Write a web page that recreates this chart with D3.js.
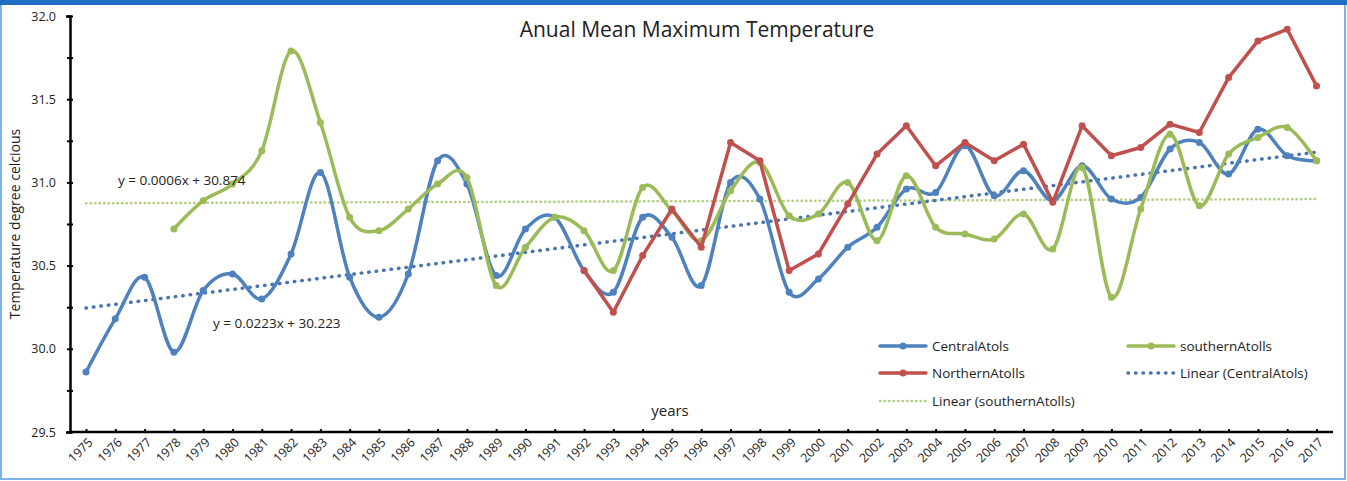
<!DOCTYPE html>
<html>
<head>
<meta charset="utf-8">
<script src="https://cdn.jsdelivr.net/npm/d3@7"></script>
<style>
  body { margin: 0; background: #fff; }
  svg text { font-family: "Open Sans", "Noto Sans", sans-serif; fill: #222; }
</style>
</head>
<body>
<div id="chart"></div>
<script>
//data
var years = d3.range(1975, 2018);
var central = [29.86, 30.18, 30.43, 29.98, 30.35, 30.45, 30.30, 30.57, 31.06, 30.43,
  30.19, 30.45, 31.13, 30.99, 30.44, 30.72, 30.79, 30.47, 30.34, 30.79,
  30.67, 30.38, 31.00, 30.90, 30.34, 30.42, 30.61, 30.73, 30.96, 30.94,
  31.22, 30.92, 31.07, 30.89, 31.10, 30.90, 30.91, 31.20, 31.24, 31.05,
  31.32, 31.16, 31.13];
var southern = [null, null, null, 30.72, 30.89, 30.99, 31.19, 31.79, 31.36, 30.79,
  30.71, 30.84, 30.99, 31.03, 30.38, 30.61, 30.79, 30.71, 30.47, 30.97,
  30.83, 30.65, 30.95, 31.12, 30.80, 30.81, 31.00, 30.65, 31.04, 30.73,
  30.69, 30.66, 30.81, 30.60, 31.09, 30.31, 30.84, 31.29, 30.86, 31.17,
  31.27, 31.33, 31.13];
var northern = [null, null, null, null, null, null, null, null, null, null,
  null, null, null, null, null, null, null, 30.47, 30.22, 30.56,
  30.84, 30.61, 31.24, 31.13, 30.47, 30.57, 30.87, 31.17, 31.34, 31.10,
  31.24, 31.13, 31.23, 30.88, 31.34, 31.16, 31.21, 31.35, 31.30, 31.63,
  31.85, 31.92, 31.58];
var yTicks = [29.5, 30.0, 30.5, 31.0, 31.5, 32.0];
//trendline coefficients as printed on the chart (x = 1..43)
var trendCentral = {slope: 0.0223, intercept: 30.223, label: "y = 0.0223x + 30.223"};
var trendSouthern = {slope: 0.0006, intercept: 30.874, label: "y = 0.0006x + 30.874"};

var svgWidth = 1347, svgHeight = 481;
var plotBottom = 432;

var svg = d3.select("#chart").append("svg")
  .attr("width", svgWidth)
  .attr("height", svgHeight);

//frame
svg.append("rect").attr("x", 1).attr("y", 1).attr("width", svgWidth - 3).attr("height", svgHeight - 3)
  .attr("fill", "none").attr("stroke", "#7fb2e5").attr("stroke-width", 2);
svg.append("rect").attr("x", 0).attr("y", 0).attr("width", svgWidth).attr("height", 5)
  .attr("fill", "#1f6fc2");

var x = d3.scaleLinear().domain([1975, 2017]).range([86, 1316.5]);
var y = d3.scaleLinear().domain([29.5, 32.0]).range([plotBottom, 16]);

var blue = "#4f81bd", red = "#c0504d", green = "#9bbb59";

//axes
var yAxis = svg.append("g").attr("transform", "translate(70,0)")
  .call(d3.axisLeft(y).tickValues(d3.range(29.5, 32.01, 0.25)).tickSize(4)
    .tickFormat(function(d) { return yTicks.indexOf(d) >= 0 ? d3.format(".1f")(d) : ""; }));
yAxis.select(".domain").attr("stroke", "#000").attr("stroke-width", 2.5);
yAxis.selectAll(".tick line").attr("stroke", "#000").attr("stroke-width", 2).attr("x2", 3).attr("x1", -3);
yAxis.selectAll(".tick text").attr("font-size", 12.5).attr("x", -14).attr("fill", "#333");

var xAxis = svg.append("g").attr("transform", "translate(0," + plotBottom + ")")
  .call(d3.axisBottom(x).tickValues(years).tickSize(0).tickFormat(d3.format("d")));
xAxis.select(".domain").attr("d", "M70,0H1333").attr("stroke", "#000").attr("stroke-width", 2.5);
xAxis.selectAll(".tick").append("line").attr("y1", -3).attr("y2", 0).attr("stroke", "#000").attr("stroke-width", 2);
xAxis.selectAll(".tick text")
  .attr("font-size", 12.5).attr("fill", "#333")
  .attr("text-anchor", "end")
  .attr("transform", "translate(4,8) rotate(-45)")
  .attr("dy", "0.35em").attr("y", 0).attr("x", 0);

//trend lines
function trendLine(t, color, dash, width) {
  var pts = years.map(function(yr, i) { return [yr, t.slope * (i + 1) + t.intercept]; });
  svg.append("path")
    .attr("d", d3.line().x(function(d) { return x(d[0]); }).y(function(d) { return y(d[1]); })(pts))
    .attr("fill", "none").attr("stroke", color).attr("stroke-width", width)
    .attr("stroke-dasharray", dash).attr("stroke-linecap", "round");
}
trendLine(trendSouthern, "#b5cf86", "0.5,4", 2.5);
trendLine(trendCentral, "#4a74b0", "0.5,7", 3.5);

//series
function drawSeries(values, color, smooth) {
  var pts = years.map(function(yr, i) { return [yr, values[i]]; }).filter(function(d) { return d[1] != null; });
  var line = d3.line()
    .x(function(d) { return x(d[0]); })
    .y(function(d) { return y(d[1]); })
    .curve(smooth ? d3.curveCardinal.tension(0) : d3.curveLinear);
  svg.append("path").attr("d", line(pts))
    .attr("fill", "none").attr("stroke", color).attr("stroke-width", 3.5).attr("stroke-linejoin", "round");
  svg.append("g").selectAll("circle").data(pts).enter().append("circle")
    .attr("cx", function(d) { return x(d[0]); })
    .attr("cy", function(d) { return y(d[1]); })
    .attr("r", 3.5).attr("fill", color);
}
drawSeries(central, blue, true);
drawSeries(southern, green, true);
drawSeries(northern, red, false);

//titles and labels
svg.append("text").attr("x", 697).attr("y", 37).attr("text-anchor", "middle")
  .attr("font-size", 21).text("Anual Mean Maximum Temperature");
svg.append("text").attr("transform", "translate(20,224) rotate(-90)").attr("text-anchor", "middle")
  .attr("font-size", 14).text("Temperature degree celcious");
svg.append("text").attr("x", 670).attr("y", 416).attr("text-anchor", "middle")
  .attr("font-size", 15).text("years");
svg.append("text").attr("x", 118).attr("y", 185).attr("font-size", 13.5).text(trendSouthern.label);
svg.append("text").attr("x", 213).attr("y", 328).attr("font-size", 13.5).text(trendCentral.label);

//legend
var legendItems = [
  {name: "CentralAtols", color: blue, type: "series", x: 880, y: 346},
  {name: "southernAtolls", color: green, type: "series", x: 1128, y: 346},
  {name: "NorthernAtolls", color: red, type: "series", x: 880, y: 373},
  {name: "Linear (CentralAtols)", color: "#4a74b0", type: "dots", x: 1128, y: 373},
  {name: "Linear (southernAtolls)", color: "#b5cf86", type: "fine", x: 880, y: 401}
];
var legend = svg.append("g").selectAll("g").data(legendItems).enter().append("g")
  .attr("transform", function(d) { return "translate(" + d.x + "," + d.y + ")"; });
legend.append("line").attr("x1", 0).attr("x2", 46).attr("y1", 0).attr("y2", 0)
  .attr("stroke", function(d) { return d.color; })
  .attr("stroke-width", function(d) { return d.type == "series" ? 3.5 : (d.type == "dots" ? 3.5 : 2.5); })
  .attr("stroke-linecap", "round")
  .attr("stroke-dasharray", function(d) { return d.type == "series" ? null : (d.type == "dots" ? "0.5,7" : "0.5,4"); });
legend.filter(function(d) { return d.type == "series"; }).append("circle")
  .attr("cx", 23).attr("cy", 0).attr("r", 3.5).attr("fill", function(d) { return d.color; });
legend.append("text").attr("x", 52).attr("y", 0).attr("dy", "0.35em")
  .attr("font-size", 13.5).text(function(d) { return d.name; });
</script>
</body>
</html>
